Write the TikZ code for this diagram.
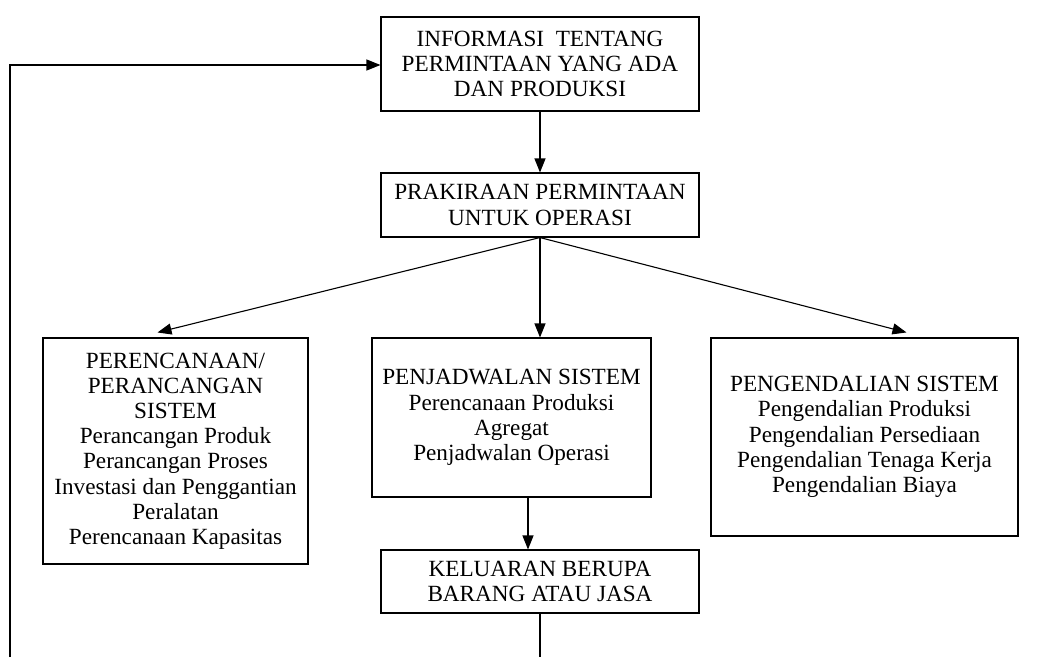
\documentclass[tikz,border=0pt]{standalone}
\usepackage{fontspec}
\setmainfont{Liberation Serif}
\usetikzlibrary{arrows.meta,calc}
\begin{document}
\begin{tikzpicture}[x=1pt,y=-1pt,
  box/.style={draw,line width=1.1pt,align=center,inner sep=0pt,
    font=\fontsize{23.2}{25.2}\selectfont},
  conn/.style={line width=1.1pt,-{Triangle[length=14pt,width=11pt]}},
  plain/.style={line width=1.1pt}]
\useasboundingbox (0,0) rectangle (1043,657);
\node[box,minimum width=318pt,minimum height=94pt] (info) at (540,64)
  {INFORMASI\ \ TENTANG\\PERMINTAAN YANG ADA\\DAN PRODUKSI};
\node[box,minimum width=318pt,minimum height=64pt] (prak) at (540,205)
  {PRAKIRAAN PERMINTAAN\\UNTUK OPERASI};
\node[box,minimum width=265pt,minimum height=226pt] (rencana) at (175.5,451)
  {PERENCANAAN/\\PERANCANGAN\\SISTEM\\Perancangan Produk\\Perancangan Proses\\Investasi dan Penggantian\\Peralatan\\Perencanaan Kapasitas};
\node[box,minimum width=279pt,minimum height=159pt] (jadwal) at (511.5,417.5)
  {PENJADWALAN SISTEM\\Perencanaan Produksi\\Agregat\\Penjadwalan Operasi};
\node[box,minimum width=307pt,minimum height=198pt] (kendali) at (864.5,437)
  {PENGENDALIAN SISTEM\\Pengendalian Produksi\\Pengendalian Persediaan\\Pengendalian Tenaga Kerja\\Pengendalian Biaya};
\node[box,minimum width=318pt,minimum height=63pt] (keluaran) at (540,581.5)
  {KELUARAN BERUPA\\BARANG ATAU JASA};
\coordinate (bottomout) at (540,657);
\coordinate (loopstart) at (10,657);
\coordinate (loopcorner) at (10,65);
\draw[conn] (info.south) -- (prak.north);
\draw[conn] (prak.south) -- ($(rencana.north)+(-18,-5)$);
\draw[conn] (prak.south) -- ($(jadwal.north)+(28.5,0)$);
\draw[conn] (prak.south) -- ($(kendali.north)+(42,-5)$);
\draw[conn] ($(jadwal.south)+(16.5,0)$) -- ($(keluaran.north)+(-12,0)$);
\draw[plain] (keluaran.south) -- (bottomout);
\draw[conn] (loopstart) -- (loopcorner) -- (info.west|-loopcorner);
\end{tikzpicture}
\end{document}
